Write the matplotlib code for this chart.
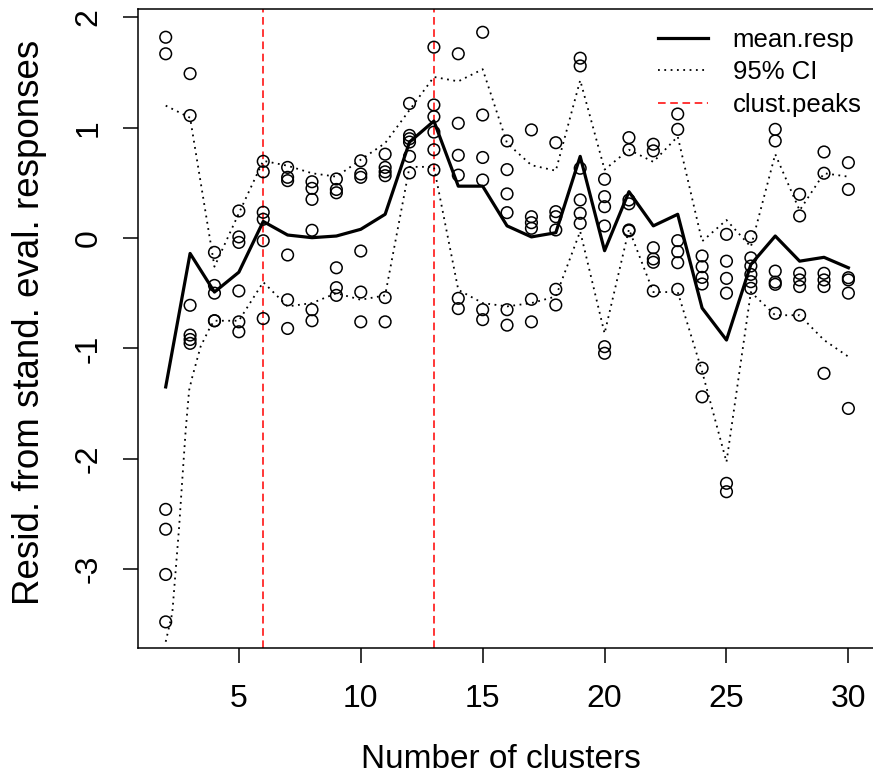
import numpy as np
import matplotlib
matplotlib.use("Agg")
import matplotlib.pyplot as plt

plt.rcParams['font.family'] = ['Liberation Sans', 'DejaVu Sans']

# residuals per number of clusters
resid = {
    2: [1.82, 1.67, -2.46, -2.64, -3.05, -3.48],
    3: [1.49, 1.11, -0.61, -0.88, -0.92, -0.955],
    4: [-0.13, -0.43, -0.50, -0.75, -0.75],
    5: [0.245, 0.01, -0.04, -0.48, -0.76, -0.85],
    6: [0.695, 0.60, 0.233, 0.17, -0.025, -0.73],
    7: [0.64, 0.55, 0.52, -0.154, -0.56, -0.82],
    8: [0.51, 0.45, 0.35, 0.07, -0.65, -0.75],
    9: [0.535, 0.44, 0.41, -0.27, -0.45, -0.52],
    10: [0.70, 0.58, 0.55, -0.118, -0.49, -0.76],
    11: [0.76, 0.64, 0.60, 0.565, -0.54, -0.76],
    12: [1.22, 0.93, 0.90, 0.87, 0.74, 0.59],
    13: [1.73, 1.206, 1.10, 0.96, 0.80, 0.617],
    14: [1.67, 1.04, 0.75, 0.57, -0.547, -0.64],
    15: [1.865, 1.115, 0.73, 0.526, -0.65, -0.74],
    16: [0.88, 0.62, 0.40, 0.23, -0.65, -0.79],
    17: [0.98, 0.193, 0.139, 0.088, -0.556, -0.76],
    18: [0.864, 0.239, 0.193, 0.073, -0.465, -0.607],
    19: [1.63, 1.56, 0.632, 0.345, 0.224, 0.133],
    20: [0.532, 0.375, 0.284, 0.109, -0.985, -1.045],
    21: [0.91, 0.80, 0.345, 0.31, 0.073, 0.065],
    22: [0.85, 0.79, -0.088, -0.19, -0.22, -0.48],
    23: [1.124, 0.985, -0.024, -0.124, -0.224, -0.465],
    24: [-0.163, -0.26, -0.357, -0.417, -1.18, -1.44],
    25: [0.033, -0.21, -0.366, -0.50, -2.224, -2.30],
    26: [0.012, -0.18, -0.254, -0.33, -0.396, -0.456],
    27: [0.985, 0.88, -0.30, -0.40, -0.42, -0.683],
    28: [0.396, 0.20, -0.32, -0.38, -0.44, -0.70],
    29: [0.78, 0.587, -0.32, -0.38, -0.44, -1.227],
    30: [0.683, 0.44, -0.36, -0.38, -0.50, -1.545],
}

n_clusters = list(range(2, 31))
mean_resp = [-1.35, -0.14, -0.49, -0.31, 0.15, 0.027, 0.003, 0.018, 0.079, 0.215,
             0.87, 1.06, 0.47, 0.47, 0.11, 0.01, 0.048, 0.74, -0.115, 0.42,
             0.11, 0.215, -0.635, -0.925, -0.24, 0.018, -0.21, -0.175, -0.27]
ci_upper = [1.20, 1.09, -0.26, 0.224, 0.70, 0.655, 0.587, 0.556, 0.71, 0.86,
            1.16, 1.46, 1.42, 1.53, 0.86, 0.66, 0.61, 1.43, 0.62, 0.80,
            0.69, 0.92, -0.03, 0.163, -0.08, 0.76, 0.25, 0.587, 0.556]
ci_lower_x = [2.0, 2.27, 2.41, 2.55, 2.68, 2.82, 2.96, 3.09, 3.43, 3.84, 4, 5, 6, 7, 8,
              9, 10, 11, 12, 13, 14, 15, 16, 17, 18, 19, 20, 21, 22, 23, 24, 25,
              26, 27, 28, 29, 30]
ci_lower = [-3.66, -3.40, -3.01, -2.62, -2.19, -1.74, -1.38, -1.26, -0.985, -0.80,
            -0.75, -0.75, -0.40, -0.62, -0.59, -0.50, -0.56, -0.52, 0.645, 0.645,
            -0.47, -0.59, -0.62, -0.59, -0.53, 0.06, -0.865, 0.08, -0.49, -0.49,
            -1.21, -2.03, -0.49, -0.70, -0.70, -0.925, -1.076]
clust_peaks = [6, 13]

W, H = 873, 777
fig = plt.figure(figsize=(W / 100, H / 100), dpi=100)
ax = fig.add_axes([138.4 / W, 1 - 647.7 / H, (875.7 - 138.4) / W, (647.7 - 9) / H])

xs = [k for k, v in resid.items() for _ in v]
ys = [y for v in resid.values() for y in v]
ax.scatter(xs, ys, s=70, facecolors='none', edgecolors='black', linewidths=1.1, zorder=3)

ax.plot(n_clusters, mean_resp, color='black', lw=2.3, label='mean.resp', zorder=4)
ax.plot(n_clusters, ci_upper, color='black', lw=1.3, linestyle=(0, (1, 2.5)),
        label='95% CI', zorder=2)
ax.plot(ci_lower_x, ci_lower, color='black', lw=1.3, linestyle=(0, (1, 2.5)), zorder=2)
for i, p in enumerate(clust_peaks):
    ax.axvline(p, color='red', lw=1.1, linestyle=(0, (5, 3)),
               label='clust.peaks' if i == 0 else None, zorder=1)

ax.set_xlim(0.88, 31.12)
ax.set_ylim(-3.714, 2.076)
ax.set_xticks([5, 10, 15, 20, 25, 30])
ax.set_yticks([-3, -2, -1, 0, 1, 2])
ax.set_yticklabels(['-3', '-2', '-1', '0', '1', '2'], rotation=90, va='center')
ax.tick_params(direction='out', length=11, width=1.1, labelsize=23)
ax.tick_params(axis='x', pad=15)
ax.tick_params(axis='y', pad=14)
for sp in ax.spines.values():
    sp.set_linewidth(1.1)

fig.text(30 / W, 1 - 322 / H, 'Resid. from stand. eval. responses', rotation=90,
         ha='center', va='center', fontsize=26.5)
fig.text(501 / W, 1 - 760 / H, 'Number of clusters', ha='center', va='center', fontsize=24)

ax.legend(loc='upper left', bbox_to_anchor=(658 / W, 1 - 28 / H),
          bbox_transform=fig.transFigure, frameon=False, fontsize=18.5,
          handlelength=1.95, handletextpad=0.95, labelspacing=0.33,
          borderpad=0, borderaxespad=0)

fig.savefig('out.png', dpi=100)
